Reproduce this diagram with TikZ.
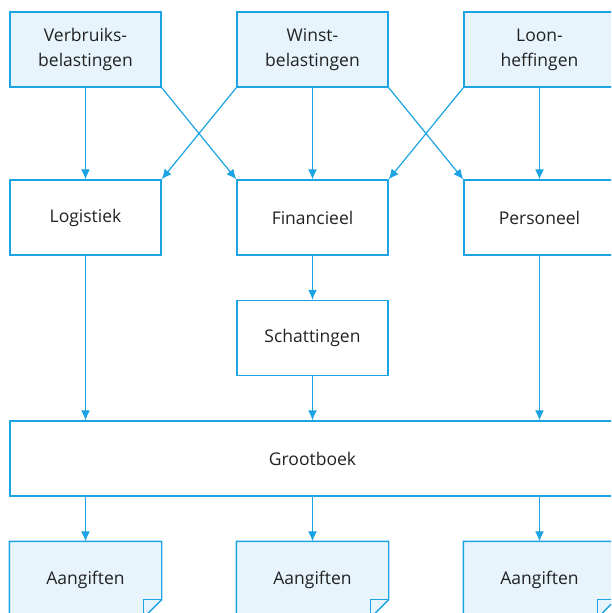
\documentclass[tikz,border=0pt]{standalone}
\usepackage{fontspec}
\setmainfont{Open Sans}
\usetikzlibrary{arrows.meta}
\definecolor{lijn}{HTML}{1BA3E3}
\definecolor{vulling}{HTML}{E7F4FC}
\definecolor{tekst}{HTML}{222222}
\tikzset{
  blok/.style={draw=lijn, line width=1.4pt, minimum width=151pt, minimum height=75pt,
    align=center, text=tekst, font=\fontsize{17.5}{25}\selectfont},
  belasting/.style={blok, fill=vulling},
  pijl/.style={draw=lijn, line width=1.2pt, -{Latex[length=10pt,width=9pt]}},
  verbind/.style={draw=lijn, line width=1.2pt}
}
\begin{document}
\begin{tikzpicture}[x=1pt, y=-1pt]
\useasboundingbox (0,0) rectangle (611,613);
\clip (0,0) rectangle (611,613);

% belastingen
\node[belasting] (verbruik) at (85.5, 49.5) {Verbruiks-\\belastingen};
\node[belasting] (winst) at (312.5, 49.5) {Winst-\\belastingen};
\node[belasting] (loon) at (539.5, 49.5) {Loon-\\heffingen};

% afdelingen
\node[blok] (logistiek) at (85.5, 217.5) {Logistiek};
\node[blok] (financieel) at (312.5, 217.5) {Financieel};
\node[blok] (personeel) at (539.5, 217.5) {Personeel};
\node[blok] (schatting) at (312.5, 338) {Schattingen};
\node[blok, minimum width=605pt] (grootboek) at (312.5, 458.5) {Grootboek};

% aangiften
\foreach \x/\n in {85.5/a1, 312.5/a2, 539.5/a3} {
  \node[blok, draw=none] (\n) at (\x, 579.5) {\phantom{Aangiften}};
  \draw[lijn, fill=vulling, line width=1.4pt]
    (\n.north west) -- (\n.north east) -- ([yshift=18pt]\n.south east)
    -- ([xshift=-18pt]\n.south east) -- (\n.south west) -- cycle;
  \draw[lijn, line width=1.2pt] ([yshift=18pt]\n.south east) -- ([xshift=-18pt, yshift=18pt]\n.south east)
    -- ([xshift=-18pt]\n.south east);
  \node[text=tekst, font=\fontsize{17.5}{25}\selectfont] at (\n) {Aangiften};
}

% pijlen
\draw[pijl] (verbruik) -- (logistiek);
\draw[pijl] (winst) -- (financieel);
\draw[pijl] (loon) -- (personeel);
\draw[pijl] (verbruik.south east) -- (financieel.north west);
\draw[pijl] (winst.south west) -- (logistiek.north east);
\draw[pijl] (winst.south east) -- (personeel.north west);
\draw[pijl] (loon.south west) -- (financieel.north east);
\draw[pijl] (financieel) -- (schatting);
\draw[pijl] (logistiek) -- (logistiek |- grootboek.north);
\draw[pijl] (schatting) -- (grootboek.north -| schatting);
\draw[pijl] (personeel) -- (personeel |- grootboek.north);
\draw[pijl] (a1 |- grootboek.south) -- (a1);
\draw[pijl] (a2 |- grootboek.south) -- (a2);
\draw[pijl] (a3 |- grootboek.south) -- (a3);
\end{tikzpicture}
\end{document}
